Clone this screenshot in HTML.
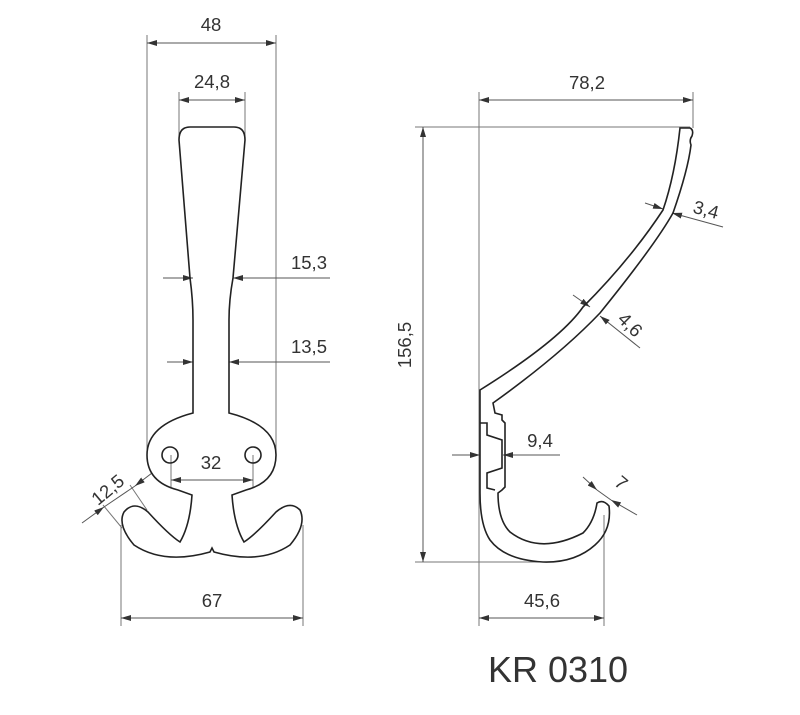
<!DOCTYPE html>
<html><head><meta charset="utf-8"><style>
html,body{margin:0;padding:0;background:#fff;}
svg{display:block;}
text{font-family:"Liberation Sans",sans-serif;fill:#333;}
</style></head><body>
<svg width="800" height="715" viewBox="0 0 800 715" xmlns="http://www.w3.org/2000/svg">
<defs>
<marker id="a" viewBox="0 0 10 6" refX="10" refY="3" markerWidth="10" markerHeight="6" orient="auto-start-reverse" markerUnits="userSpaceOnUse"><path d="M0,0L10,3L0,6z" fill="#333"/></marker>
</defs>
<g stroke="#777" stroke-width="1" fill="none">
<line x1="147" y1="35" x2="147" y2="455"/>
<line x1="276" y1="35" x2="276" y2="455"/>
<line x1="179" y1="92" x2="179" y2="140"/>
<line x1="245" y1="92" x2="245" y2="140"/>
<line x1="121" y1="525" x2="121" y2="626"/>
<line x1="303" y1="525" x2="303" y2="626"/>
<line x1="171" y1="455" x2="171" y2="488"/>
<line x1="253" y1="455" x2="253" y2="488"/>
<line x1="130" y1="485" x2="147" y2="510"/>
<line x1="103" y1="505" x2="122" y2="528"/>
<line x1="479" y1="92" x2="479" y2="626"/>
<line x1="693" y1="92" x2="693" y2="128"/>
<line x1="415" y1="127" x2="690" y2="127"/>
<line x1="415" y1="562" x2="545" y2="562"/>
<line x1="604" y1="515" x2="604" y2="626"/>
</g>
<g stroke="#555" stroke-width="1" fill="none">
<line x1="147" y1="43" x2="276" y2="43" marker-start="url(#a)" marker-end="url(#a)"/>
<line x1="179" y1="100" x2="245" y2="100" marker-start="url(#a)" marker-end="url(#a)"/>
<line x1="163" y1="278" x2="193" y2="278" marker-end="url(#a)"/>
<line x1="330" y1="278" x2="233" y2="278" marker-end="url(#a)"/>
<line x1="167" y1="362" x2="193" y2="362" marker-end="url(#a)"/>
<line x1="330" y1="362" x2="229" y2="362" marker-end="url(#a)"/>
<line x1="171" y1="480" x2="253" y2="480" marker-start="url(#a)" marker-end="url(#a)"/>
<line x1="121" y1="618" x2="303" y2="618" marker-start="url(#a)" marker-end="url(#a)"/>
<line x1="82" y1="523" x2="104" y2="507" marker-end="url(#a)"/>
<line x1="152" y1="473" x2="135" y2="486" marker-end="url(#a)"/>
<line x1="104" y1="507" x2="135" y2="486"/>
<line x1="479" y1="100" x2="693" y2="100" marker-start="url(#a)" marker-end="url(#a)"/>
<line x1="423" y1="127" x2="423" y2="562" marker-start="url(#a)" marker-end="url(#a)"/>
<line x1="479" y1="618" x2="604" y2="618" marker-start="url(#a)" marker-end="url(#a)"/>
<line x1="645" y1="203" x2="663" y2="209" marker-end="url(#a)"/>
<line x1="723" y1="227" x2="672" y2="213" marker-end="url(#a)"/>
<line x1="573" y1="295" x2="590" y2="307" marker-end="url(#a)"/>
<line x1="640" y1="348" x2="600" y2="316" marker-end="url(#a)"/>
<line x1="452" y1="455" x2="480" y2="455" marker-end="url(#a)"/>
<line x1="560" y1="455" x2="503" y2="455" marker-end="url(#a)"/>
<line x1="583" y1="477" x2="597" y2="490" marker-end="url(#a)"/>
<line x1="637" y1="515" x2="611" y2="500" marker-end="url(#a)"/>
<line x1="597" y1="490" x2="611" y2="500"/>
</g>
<g stroke="#222" stroke-width="1.6" fill="none">
<path d="M190,127 L234,127 Q245,127 245,140 L233,278 Q229,300 229,320 L229,413 Q276,425 276,455 Q276,482 246,490 L232,495 Q234,525 244,542 Q255,535 276,512 Q290,500 300,510 Q307,525 290,545 Q260,565 214,552 L212,548 L210,552 Q164,565 134,545 Q117,525 124,512 Q134,500 148,512 Q169,535 180,542 Q190,525 192,495 L178,490 Q147,482 147,455 Q147,425 193,413 L193,320 Q193,300 190,278 L179,140 Q179,127 190,127 Z"/>
<circle cx="170" cy="455" r="8"/>
<circle cx="253" cy="455" r="8"/>
</g>
<g stroke="#222" stroke-width="1.6" fill="none">
<path d="M680,128 L690,128 Q694,130 692,136 Q689,140 691,145 Q688,170 673,213 Q655,245 600,313 Q560,355 493,403 L495,413 L502,415 L502,420 L505,423 L505,487 L502,490 L498,493 Q498,520 510,532 Q540,555 583,533 Q594,522 597,503 Q603,499 609,506 Q612,530 595,545 Q575,563 543,562 Q505,560 490,540 Q480,525 480,493 L480,390 Q560,340 583,307 Q630,260 663,210 Q675,175 680,128 Z"/>
<path d="M480,423 L487,423 L487,435 L502,440 L502,468 L487,473 L487,488 L495,490"/>
</g>
<g font-size="18.5">
<text x="211" y="31" text-anchor="middle">48</text>
<text x="212" y="88" text-anchor="middle">24,8</text>
<text x="309" y="269" text-anchor="middle">15,3</text>
<text x="309" y="353" text-anchor="middle">13,5</text>
<text x="211" y="469" text-anchor="middle">32</text>
<text x="212" y="607" text-anchor="middle">67</text>
<text x="108" y="496" text-anchor="middle" transform="rotate(-40 108 490)">12,5</text>
<text x="587" y="89" text-anchor="middle">78,2</text>
<text x="405" y="351" text-anchor="middle" transform="rotate(-90 405 345)">156,5</text>
<text x="706" y="216" text-anchor="middle" transform="rotate(15 706 210)">3,4</text>
<text x="630" y="331" text-anchor="middle" transform="rotate(45 630 325)">4,6</text>
<text x="540" y="447" text-anchor="middle">9,4</text>
<text x="621" y="489" text-anchor="middle" transform="rotate(40 621 483)">7</text>
<text x="542" y="607" text-anchor="middle">45,6</text>
</g>
<text x="558" y="682" text-anchor="middle" font-size="36" style="fill:#333">KR 0310</text>
</svg>
</body></html>
